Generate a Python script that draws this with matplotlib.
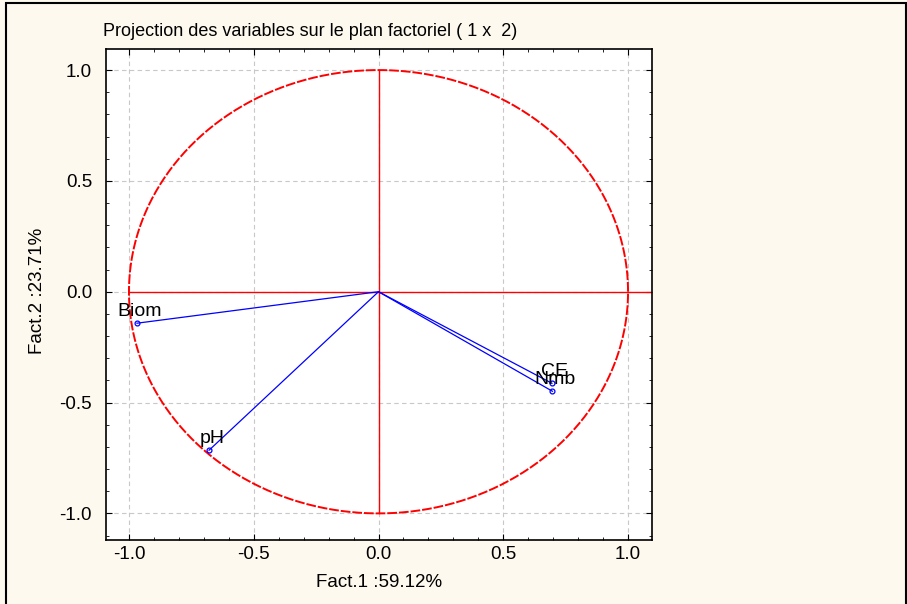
import numpy as np
import matplotlib.pyplot as plt
from matplotlib.patches import Rectangle
from matplotlib.ticker import MultipleLocator

# variable coordinates on factors 1 and 2
variables = ["Biom", "pH", "CE", "Nmb"]
fact1 = [-0.968, -0.679, 0.695, 0.697]
fact2 = [-0.142, -0.715, -0.413, -0.449]

title = "Projection des variables sur le plan factoriel ( 1 x  2)"
xlab = "Fact.1 :59.12%"
ylab = "Fact.2 :23.71%"

plt.rcParams['font.family'] = ['Liberation Sans', 'DejaVu Sans']
bg = "#fef9ee"

fig = plt.figure(figsize=(9.07, 6.04), dpi=100, facecolor=bg)
fig.patches.append(Rectangle((6 / 907, -0.01), 900 / 907, 1 - 3 / 604 + 0.01,
                             transform=fig.transFigure, fill=False,
                             edgecolor="black", linewidth=1.5))

ax = fig.add_axes([106 / 907, 64 / 604, 546 / 907, 491 / 604])
ax.set_facecolor("white")
ax.set_xlim(-1.092, 1.096)
ax.set_ylim(-1.12, 1.095)

ax.xaxis.set_major_locator(MultipleLocator(0.5))
ax.yaxis.set_major_locator(MultipleLocator(0.5))
ax.xaxis.set_minor_locator(MultipleLocator(0.1))
ax.yaxis.set_minor_locator(MultipleLocator(0.1))
ax.tick_params(which="both", direction="in", top=True, right=True, labelsize=13.5)
ax.tick_params(which="major", length=4)
ax.tick_params(which="minor", length=2)
ax.tick_params(axis="y", pad=10)
ax.tick_params(axis="x", pad=4)
ax.xaxis.set_major_formatter(lambda v, p: f"{v:.1f}")
ax.yaxis.set_major_formatter(lambda v, p: f"{v:.1f}")
ax.grid(True, which="major", color="#c8c8c8", linestyle=(0, (4, 3)), linewidth=0.8)
ax.set_axisbelow(True)

# unit correlation circle and factor axes
t = np.linspace(0, 2 * np.pi, 721)
ax.plot(np.cos(t), np.sin(t), color="red", linewidth=1.4, linestyle=(0, (5, 1)))
ax.plot([0, 0], [-1, 1], color="red", linewidth=1)
ax.plot([-1, 1.1], [0, 0], color="red", linewidth=1)

for name, x, y in zip(variables, fact1, fact2):
    ax.plot([0, x], [0, y], color="blue", linewidth=0.9)
    ax.plot(x, y, marker="o", markersize=3.5, markerfacecolor="none",
            markeredgecolor="blue", markeredgewidth=0.9)
    ax.annotate(name, (x, y), xytext=(2, 5), textcoords="offset points",
                ha="center", va="baseline", fontsize=14)

for s in ax.spines.values():
    s.set_linewidth(1.2)

fig.text(103 / 907, 1 - 36 / 604, title, fontsize=13, ha="left", va="baseline")
fig.text(379 / 907, 1 - 587 / 604, xlab, fontsize=13.5, ha="center", va="baseline")
fig.text(38 / 907, 1 - 291 / 604, ylab, fontsize=13.5, rotation=90,
         ha="center", va="center")

fig.savefig("out.png", dpi=100, facecolor=bg)
